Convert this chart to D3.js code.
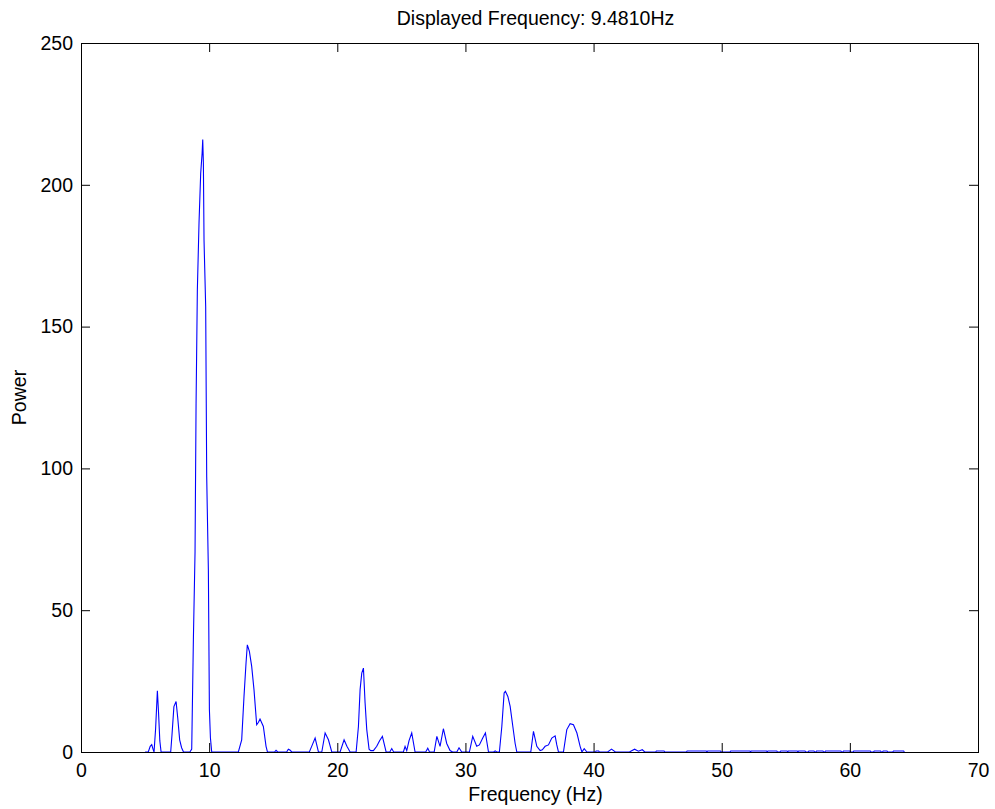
<!DOCTYPE html>
<meta charset="utf-8">
<style>
  body{ margin:0; background:#fff; }
  text{ font-family: "Liberation Sans", Arial, Helvetica, sans-serif; fill:#000; }
  .tick text{ font-size:19.5px; }
  .lbl{ font-size:19.5px; }
  .spectrum{ fill:none; stroke:#0000ff; stroke-width:1.1; }
</style>
<body>
<div id="chart"></div>
<script src="https://cdn.jsdelivr.net/npm/d3@7"></script>
<script>

// spectrum (Hz, power)
var freqHz = [
  5.0, 5.25, 5.4, 5.52, 5.62, 5.7, 5.82, 5.96, 6.05, 6.15, 6.25,
  7.0, 7.1, 7.25, 7.42, 7.55, 7.7, 7.85, 8.0,
  8.5, 8.64, 8.77, 8.9, 8.98, 9.08, 9.21, 9.34, 9.45, 9.5, 9.55, 9.6, 9.73, 9.81, 9.94, 10.02, 10.1, 10.2,
  12.28, 12.54, 12.72, 12.88, 12.98, 13.14, 13.32, 13.5, 13.71, 13.85, 13.97, 14.23, 14.44, 14.55,
  15.1, 15.22, 15.35, 16.05, 16.18, 16.3, 16.45,
  17.82, 18.05, 18.27, 18.53, 18.79, 19.05, 19.31, 19.57,
  20.22, 20.53, 20.75, 21.0,
  21.47, 21.65, 21.78, 21.91, 22.04, 22.17, 22.3, 22.48, 22.61, 22.82,
  23.08, 23.3, 23.52, 23.81, 24.1, 24.25, 24.4,
  25.16, 25.29, 25.42, 25.6, 25.81, 26.07, 26.9, 27.06, 27.2,
  27.56, 27.77, 28.02, 28.28, 28.54, 28.8, 29.0, 29.33, 29.5, 29.71,
  30.31, 30.57, 30.88, 31.09, 31.35, 31.56, 31.8, 32.2, 32.32, 32.45,
  32.65, 32.84, 33.02, 33.12, 33.31, 33.49, 33.7, 33.88, 34.01,
  35.1, 35.31, 35.57, 35.83, 36.0, 36.22, 36.48, 36.74, 37.0, 37.13, 37.26,
  37.65, 37.91, 38.17, 38.43, 38.7, 38.95, 39.09, 39.27, 39.48,
  40.15, 40.2, 40.4, 40.45,
  41.1, 41.4, 41.7, 42.8, 43.2, 43.5, 43.8, 44.0,
  44.85, 44.9, 45.5, 45.55,
  47.25, 47.3, 48.8, 48.85, 48.9, 49.9, 49.95,
  50.65, 50.7, 52.2, 52.25, 52.3, 53.5, 53.55, 53.6, 54.3, 54.35,
  54.55, 54.6, 55.1, 55.15, 55.2, 55.9, 55.95, 56.0, 56.5, 56.55,
  56.75, 56.8, 57.2, 57.25, 57.35, 57.4, 57.9, 57.95, 58.05, 58.1, 59.3, 59.35,
  59.45, 59.5, 60.0, 60.05, 60.25, 60.3, 61.6, 61.65,
  61.85, 61.9, 62.4, 62.45, 62.55, 62.6, 62.9, 62.95, 63.35, 63.4, 64.2, 64.25
];
var power = [
  0, 0, 2, 2.6, 1, 0, 8, 21.6, 14, 4, 0,
  0, 6, 16, 17.8, 12, 4.3, 1.5, 0,
  0, 1, 39.6, 70.7, 123, 163, 186.6, 204, 211, 216, 207.7, 180.6, 157, 97, 64, 15, 5, 0,
  0, 4.3, 19.6, 31.5, 37.8, 35.5, 30.2, 22, 9.6, 10.5, 11.6, 9.0, 2, 0,
  0, 0.6, 0, 0, 1.0, 0.7, 0,
  0, 2.5, 4.9, 0, 0, 6.7, 4.3, 0,
  0, 4.3, 2, 0,
  0, 9, 22, 27.8, 29.6, 17.3, 7.9, 1, 0.5, 0.5,
  2, 4, 5.5, 0, 0, 1.2, 0,
  0, 2, 0.5, 4, 6.7, 0, 0, 1.3, 0,
  0, 5.5, 2, 8.2, 3, 0.5, 0, 0, 1.5, 0,
  0, 5.5, 2, 2.5, 4.9, 6.7, 0, 0, 0.4, 0,
  0, 9, 20.8, 21.4, 19.6, 16.1, 9, 3, 0,
  0, 7.3, 2, 0.5, 0.8, 2, 2.5, 4.9, 5.7, 2.5, 0,
  0, 7.9, 10, 9.6, 6.7, 2, 0, 1.2, 0,
  0, 0.35, 0.35, 0,
  0, 1.0, 0, 0, 1.0, 0.3, 0.8, 0,
  0, 0.35, 0.35, 0,
  0, 0.35, 0.35, 0, 0.35, 0.35, 0,
  0, 0.35, 0.35, 0, 0.35, 0.35, 0, 0.35, 0.35, 0,
  0, 0.35, 0.35, 0, 0.35, 0.35, 0, 0.35, 0.35, 0,
  0, 0.35, 0.35, 0, 0, 0.35, 0.35, 0, 0, 0.35, 0.35, 0,
  0, 0.35, 0.35, 0, 0, 0.35, 0.35, 0,
  0, 0.35, 0.35, 0, 0, 0.35, 0.35, 0, 0, 0.35, 0.35, 0
];
var xTicks = [0, 10, 20, 30, 40, 50, 60, 70];
var yTicks = [0, 50, 100, 150, 200, 250];
var title = 'Displayed Frequency: 9.4810Hz';

var W = 995, H = 809;
var plotL = 81, plotR = 978, plotT = 43, plotB = 752;

var svg = d3.select('#chart').append('svg').attr('width', W).attr('height', H);
svg.append('rect').attr('width', W).attr('height', H).attr('fill', '#fff');

var x = d3.scaleLinear().domain([0, 70]).range([plotL, plotR]);
var y = d3.scaleLinear().domain([0, 250]).range([plotB, plotT]);

var pts = freqHz.map(function(f, i){ return [f, power[i]]; });

var line = d3.line()
  .x(function(d){ return x(d[0]); })
  .y(function(d){ return y(d[1]); });

svg.append('path').datum(pts).attr('class', 'spectrum').attr('d', line);

// box with inward ticks on all four sides
var tk = 9;
svg.append('g').attr('transform', 'translate(0,' + plotB + ')')
  .call(d3.axisBottom(x).tickValues(xTicks).tickSizeInner(-tk).tickSizeOuter(0).tickPadding(11));
svg.append('g').attr('transform', 'translate(0,' + plotT + ')')
  .call(d3.axisTop(x).tickValues(xTicks).tickSizeInner(-tk).tickSizeOuter(0).tickFormat(''));
svg.append('g').attr('transform', 'translate(' + plotL + ',0)')
  .call(d3.axisLeft(y).tickValues(yTicks).tickSizeInner(-tk).tickSizeOuter(0).tickPadding(8));
svg.append('g').attr('transform', 'translate(' + plotR + ',0)')
  .call(d3.axisRight(y).tickValues(yTicks).tickSizeInner(-tk).tickSizeOuter(0).tickFormat(''));

svg.selectAll('.domain').remove();
svg.selectAll('.tick line').attr('stroke', '#000');
svg.selectAll('.tick text').attr('font-family', null).attr('font-size', null);
svg.append('rect')
  .attr('x', plotL + 0.5).attr('y', plotT + 0.5)
  .attr('width', plotR - plotL).attr('height', plotB - plotT)
  .attr('fill', 'none').attr('stroke', '#000');

svg.append('text').attr('class', 'lbl')
  .attr('x', (plotL + plotR) / 2 + 6).attr('y', 25)
  .attr('text-anchor', 'middle').text(title);

svg.append('text').attr('class', 'lbl')
  .attr('x', (plotL + plotR) / 2 + 6).attr('y', 801)
  .attr('text-anchor', 'middle').text('Frequency (Hz)');

svg.append('text').attr('class', 'lbl')
  .attr('transform', 'translate(26,' + (plotT + plotB) / 2 + ') rotate(-90)')
  .attr('text-anchor', 'middle').text('Power');

</script>
</body>
